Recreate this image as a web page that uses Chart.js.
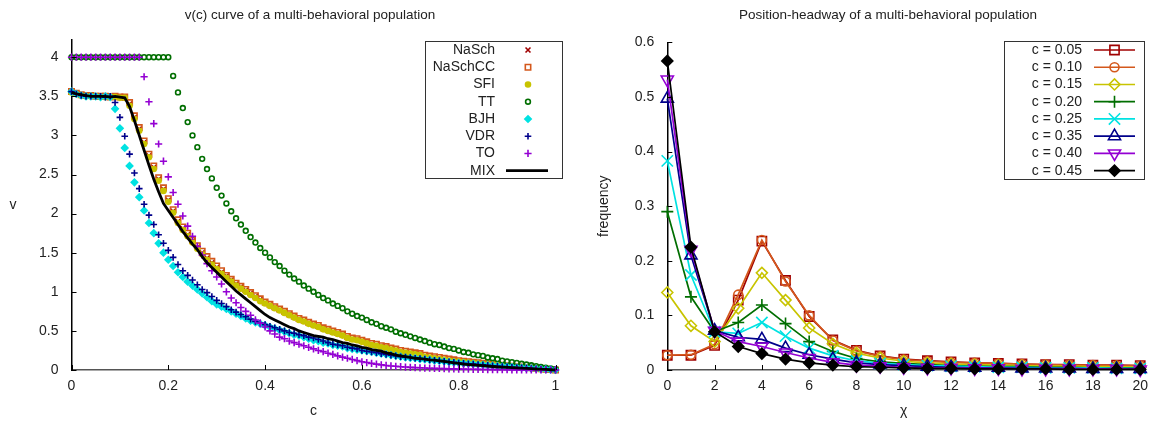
<!DOCTYPE html>
<html>
<head>
<meta charset="utf-8">
<script src="https://cdn.jsdelivr.net/npm/chart.js@4.4.1/dist/chart.umd.min.js"></script>
<style>
  html, body { margin: 0; padding: 0; background: #fff; }
  #wrap { position: relative; width: 1156px; height: 422px; }
  .panel { position: absolute; top: 0; }
</style>
</head>
<body>
<div id="wrap">
  <div class="panel" style="left:0"><canvas id="vc" width="580" height="422"></canvas></div>
  <div class="panel" style="left:580px"><canvas id="ph" width="576" height="422"></canvas></div>
</div>
<script>
/* v(c) curves + position-headway distributions */
const FONT = '"Liberation Sans", Arial, sans-serif';

// ---- left panel: density grid and speeds per model ----
const C_GRID = [0,0.01,0.02,0.03,0.04,0.05,0.06,0.07,0.08,0.09,0.1,0.11,0.12,0.13,0.14,0.15,0.16,0.17,0.18,0.19,0.2,
  0.21,0.22,0.23,0.24,0.25,0.26,0.27,0.28,0.29,0.3,0.31,0.32,0.33,0.34,0.35,0.36,0.37,0.38,0.39,0.4,
  0.41,0.42,0.43,0.44,0.45,0.46,0.47,0.48,0.49,0.5,0.51,0.52,0.53,0.54,0.55,0.56,0.57,0.58,0.59,0.6,
  0.61,0.62,0.63,0.64,0.65,0.66,0.67,0.68,0.69,0.7,0.71,0.72,0.73,0.74,0.75,0.76,0.77,0.78,0.79,0.8,
  0.81,0.82,0.83,0.84,0.85,0.86,0.87,0.88,0.89,0.9,0.91,0.92,0.93,0.94,0.95,0.96,0.97,0.98,0.99,1];

const V_NASCH = [3.56,3.53,3.52,3.51,3.50,3.50,3.50,3.49,3.50,3.49,3.49,3.48,3.40,3.23,3.08,2.91,2.74,2.59,2.44,2.31,2.17,
  2.03,1.90,1.81,1.73,1.65,1.57,1.50,1.43,1.37,1.31,1.25,1.20,1.15,1.10,1.06,1.02,0.98,0.94,0.90,0.86,
  0.83,0.80,0.77,0.74,0.71,0.68,0.65,0.63,0.60,0.58,0.56,0.53,0.51,0.49,0.47,0.45,0.42,0.40,0.39,0.37,
  0.35,0.33,0.32,0.30,0.29,0.27,0.26,0.24,0.23,0.22,0.21,0.20,0.18,0.17,0.16,0.15,0.14,0.13,0.12,0.115,
  0.108,0.101,0.094,0.087,0.081,0.075,0.069,0.062,0.056,0.05,0.045,0.04,0.035,0.03,0.025,0.02,0.015,0.01,0.005,0];
const V_NASCHCC = [3.56,3.54,3.52,3.51,3.51,3.50,3.50,3.50,3.49,3.50,3.49,3.49,3.42,3.25,3.10,2.93,2.76,2.61,2.46,2.33,2.19,
  2.05,1.92,1.83,1.75,1.66,1.59,1.52,1.45,1.39,1.33,1.27,1.21,1.16,1.11,1.07,1.03,0.99,0.95,0.91,0.87,
  0.84,0.81,0.78,0.75,0.72,0.69,0.66,0.64,0.61,0.59,0.57,0.54,0.52,0.50,0.48,0.46,0.43,0.41,0.40,0.38,
  0.36,0.34,0.33,0.31,0.30,0.28,0.27,0.25,0.24,0.23,0.22,0.21,0.19,0.18,0.17,0.16,0.15,0.14,0.13,0.12,
  0.113,0.106,0.099,0.092,0.085,0.079,0.072,0.066,0.06,0.054,0.048,0.043,0.038,0.033,0.028,0.022,0.017,0.011,0.006,0];
const V_SFI = [3.55,3.53,3.51,3.50,3.50,3.50,3.49,3.49,3.49,3.49,3.48,3.48,3.38,3.21,3.06,2.89,2.72,2.57,2.42,2.29,2.15,
  2.01,1.88,1.79,1.71,1.63,1.55,1.48,1.41,1.35,1.29,1.23,1.18,1.13,1.08,1.04,1.00,0.96,0.92,0.88,0.85,
  0.82,0.79,0.76,0.73,0.70,0.67,0.64,0.62,0.59,0.57,0.55,0.52,0.50,0.48,0.46,0.44,0.41,0.39,0.38,0.36,
  0.34,0.32,0.31,0.29,0.28,0.26,0.25,0.23,0.22,0.21,0.20,0.19,0.17,0.16,0.15,0.14,0.13,0.12,0.11,0.108,
  0.102,0.095,0.089,0.082,0.076,0.071,0.065,0.059,0.053,0.047,0.042,0.037,0.033,0.028,0.023,0.019,0.014,0.009,0.004,0];
const V_TT = [4,4,4,4,4,4,4,4,4,4,4,4,4,4,4,4,4,4,4,4,4,
  3.76,3.55,3.35,3.17,3.00,2.85,2.70,2.57,2.45,2.33,2.23,2.13,2.03,1.94,1.86,1.78,1.70,1.63,1.56,1.50,
  1.44,1.38,1.33,1.27,1.22,1.17,1.13,1.08,1.04,1.00,0.96,0.92,0.89,0.85,0.82,0.79,0.75,0.72,0.69,0.67,
  0.64,0.61,0.59,0.56,0.54,0.52,0.49,0.47,0.45,0.43,0.41,0.39,0.37,0.35,0.33,0.32,0.30,0.28,0.27,0.25,
  0.23,0.22,0.20,0.19,0.18,0.16,0.15,0.14,0.12,0.11,0.10,0.09,0.08,0.07,0.06,0.05,0.04,0.03,0.02,0.01];
const V_BJH = [3.56,3.53,3.51,3.50,3.50,3.50,3.49,3.50,3.49,3.34,3.09,2.84,2.61,2.40,2.21,2.04,1.88,1.75,1.62,1.50,1.41,
  1.33,1.25,1.19,1.13,1.08,1.03,0.98,0.93,0.88,0.84,0.81,0.78,0.75,0.72,0.69,0.66,0.63,0.61,0.59,0.57,
  0.55,0.53,0.51,0.49,0.47,0.45,0.44,0.42,0.40,0.38,0.37,0.35,0.34,0.32,0.31,0.30,0.28,0.27,0.26,0.25,
  0.24,0.23,0.22,0.21,0.20,0.19,0.18,0.17,0.16,0.155,0.15,0.14,0.135,0.13,0.12,0.115,0.11,0.10,0.095,0.09,
  0.085,0.08,0.075,0.07,0.065,0.06,0.055,0.05,0.045,0.04,0.036,0.032,0.028,0.024,0.02,0.016,0.012,0.008,0.004,0];
const V_VDR = [3.56,3.53,3.51,3.50,3.50,3.50,3.50,3.49,3.50,3.42,3.23,2.99,2.76,2.52,2.32,2.12,1.98,1.86,1.73,1.62,1.53,
  1.44,1.35,1.27,1.21,1.15,1.09,1.03,0.99,0.94,0.89,0.85,0.81,0.77,0.74,0.71,0.68,0.65,0.62,0.60,0.58,
  0.56,0.54,0.52,0.50,0.48,0.47,0.45,0.44,0.42,0.41,0.39,0.37,0.35,0.33,0.32,0.31,0.29,0.28,0.27,0.25,
  0.24,0.23,0.22,0.21,0.20,0.19,0.18,0.17,0.165,0.16,0.15,0.145,0.14,0.13,0.125,0.12,0.11,0.105,0.10,0.09,
  0.085,0.08,0.075,0.07,0.065,0.06,0.055,0.05,0.045,0.04,0.036,0.032,0.028,0.024,0.02,0.016,0.012,0.008,0.004,0];
const V_TO = [4,4,4,4,4,4,4,4,4,4,4,4,4,4,4,3.75,3.43,3.15,2.89,2.67,2.47,
  2.27,2.12,1.97,1.84,1.71,1.58,1.47,1.36,1.27,1.19,1.10,1.00,0.92,0.86,0.80,0.75,0.70,0.64,0.60,0.55,
  0.50,0.46,0.42,0.40,0.37,0.35,0.33,0.31,0.29,0.27,0.25,0.235,0.215,0.20,0.18,0.165,0.15,0.135,0.12,0.105,
  0.095,0.085,0.075,0.065,0.058,0.052,0.047,0.042,0.038,0.034,0.031,0.028,0.025,0.023,0.021,0.019,0.017,0.015,0.014,0.012,
  0.011,0.01,0.009,0.008,0.007,0.006,0.005,0.004,0.003,0.003,0.002,0.002,0.002,0.002,0.002,0.002,0.002,0.002,0.002,0.002];
const V_MIX = [3.55,3.53,3.52,3.51,3.50,3.50,3.50,3.50,3.49,3.50,3.49,3.48,3.37,3.19,3.00,2.81,2.62,2.44,2.28,2.13,2.04,
  1.95,1.86,1.77,1.69,1.61,1.54,1.45,1.37,1.31,1.25,1.19,1.13,1.07,1.01,0.96,0.91,0.86,0.81,0.76,0.71,
  0.67,0.64,0.61,0.58,0.55,0.53,0.50,0.48,0.46,0.44,0.43,0.42,0.40,0.39,0.37,0.35,0.34,0.32,0.31,0.29,
  0.28,0.26,0.25,0.24,0.22,0.21,0.19,0.18,0.17,0.16,0.15,0.145,0.14,0.13,0.125,0.117,0.11,0.10,0.09,0.085,
  0.076,0.07,0.065,0.06,0.055,0.05,0.045,0.04,0.037,0.034,0.03,0.027,0.024,0.02,0.017,0.013,0.01,0.007,0.003,0];

const V_TICKS = [0,0.5,1,1.5,2,2.5,3,3.5,4];
const C_TICKS = [0,0.2,0.4,0.6,0.8,1];

// ---- right panel: headway distribution per density ----
const CHI = [0,1,2,3,4,5,6,7,8,9,10,11,12,13,14,15,16,17,18,19,20];
const F_005 = [0.027,0.027,0.045,0.128,0.236,0.164,0.098,0.055,0.036,0.026,0.020,0.017,0.015,0.013,0.012,0.011,0.010,0.010,0.009,0.009,0.008];
const F_010 = [0.027,0.028,0.047,0.138,0.238,0.162,0.100,0.054,0.035,0.025,0.019,0.016,0.014,0.013,0.012,0.011,0.010,0.009,0.009,0.008,0.008];
const F_015 = [0.142,0.081,0.052,0.113,0.178,0.128,0.077,0.048,0.031,0.022,0.016,0.013,0.011,0.010,0.009,0.008,0.007,0.007,0.006,0.006,0.005];
const F_020 = [0.290,0.134,0.070,0.087,0.119,0.085,0.052,0.034,0.021,0.015,0.012,0.010,0.008,0.007,0.006,0.006,0.005,0.005,0.004,0.004,0.004];
const F_025 = [0.383,0.174,0.070,0.067,0.087,0.062,0.040,0.026,0.017,0.012,0.010,0.008,0.007,0.006,0.005,0.005,0.004,0.004,0.004,0.003,0.003];
const F_035 = [0.497,0.210,0.072,0.060,0.056,0.040,0.028,0.020,0.013,0.010,0.008,0.006,0.005,0.004,0.004,0.003,0.003,0.003,0.002,0.002,0.002];
const F_040 = [0.532,0.220,0.072,0.052,0.043,0.032,0.022,0.014,0.009,0.007,0.005,0.004,0.004,0.003,0.003,0.002,0.002,0.002,0.002,0.002,0.001];
const F_045 = [0.566,0.225,0.070,0.043,0.030,0.020,0.013,0.009,0.006,0.005,0.004,0.003,0.003,0.002,0.002,0.002,0.002,0.001,0.001,0.001,0.001];

const F_TICKS = [0,0.1,0.2,0.3,0.4,0.5,0.6];
const CHI_TICKS = [0,2,4,6,8,10,12,14,16,18,20];

const pts = (xs, ys) => xs.map((x, i) => ({ x, y: ys[i] }));
const NONE = 'rgba(0,0,0,0)';

Chart.defaults.font.family = FONT;
Chart.defaults.font.size = 14;
Chart.defaults.color = '#222';

// gnuplot-ish frame: inward ticks, titles, boxed key (text right, sample left)
function framePlugin(spec) {
  return {
    id: 'frame',
    afterDraw(chart) {
      const ctx = chart.ctx, xs = chart.scales.x, ys = chart.scales.y, a = chart.chartArea;
      ctx.save();
      ctx.strokeStyle = '#000'; ctx.lineWidth = 1;
      ctx.beginPath();
      ys.ticks.forEach(t => { const y = Math.round(ys.getPixelForValue(t.value)) + 0.5; ctx.moveTo(a.left, y); ctx.lineTo(a.left + 5, y); });
      xs.ticks.forEach(t => { const x = Math.round(xs.getPixelForValue(t.value)) + 0.5; ctx.moveTo(x, a.bottom); ctx.lineTo(x, a.bottom - 5); });
      ctx.stroke();

      ctx.fillStyle = '#222'; ctx.textAlign = 'center'; ctx.textBaseline = 'middle';
      ctx.font = '13.5px ' + FONT;
      ctx.fillText(spec.title, spec.titleX, 15);
      ctx.font = '14px ' + FONT;
      ctx.fillText(spec.xTitle, (a.left + a.right) / 2, 411);
      ctx.save();
      ctx.translate(spec.yTitleX, (a.top + a.bottom) / 2);
      if (spec.rotateY) ctx.rotate(-Math.PI / 2);
      ctx.fillText(spec.yTitle, 0, 0);
      ctx.restore();

      const L = spec.key;
      ctx.fillStyle = '#fff'; ctx.fillRect(L.x, L.y, L.w, L.h);
      ctx.strokeStyle = '#333'; ctx.lineWidth = 1; ctx.strokeRect(L.x + 0.5, L.y + 0.5, L.w, L.h);
      ctx.textAlign = 'right';
      chart.data.datasets.forEach((ds, i) => {
        const y = L.y + L.first + i * L.step;
        ctx.fillStyle = '#222';
        ctx.fillText(ds.label, L.textRight, y);
        if (ds.showLine) {
          ctx.strokeStyle = ds.borderColor; ctx.lineWidth = ds.borderWidth;
          ctx.beginPath(); ctx.moveTo(L.line0, y); ctx.lineTo(L.line1, y); ctx.stroke();
        }
        if (ds.pointRadius > 0) {
          ctx.strokeStyle = ds.pointBorderColor; ctx.fillStyle = ds.pointBackgroundColor; ctx.lineWidth = ds.pointBorderWidth;
          Chart.helpers.drawPoint(ctx, { pointStyle: ds.pointStyle, rotation: ds.pointRotation || 0, radius: ds.pointRadius, borderWidth: ds.pointBorderWidth }, L.mark, y);
        }
      });
      ctx.restore();
    }
  };
}

function axis(min, max, tickVals, fmt, size, pad, borderColor, isY) {
  return {
    type: 'linear', min, max,
    afterBuildTicks(s) { s.ticks = tickVals.map(v => ({ value: v })); },
    afterFit(s) { if (isY) s.width = size; else s.height = size; },
    ticks: { padding: pad, callback: fmt, autoSkip: false, maxRotation: 0, color: '#222', font: { size: 14 } },
    grid: { display: false, drawTicks: false },
    border: { display: true, color: borderColor, width: 1.5 }
  };
}

// ---- left chart ----
const leftSpec = [
  { label: 'NaSch',   v: V_NASCH,   color: '#a00000', style: 'crossRot', r: 3.5, fill: false },
  { label: 'NaSchCC', v: V_NASCHCC, color: '#d4581c', style: 'rect',     r: 3.8, fill: false },
  { label: 'SFI',     v: V_SFI,     color: '#c8c400', style: 'circle',   r: 2.5, fill: true },
  { label: 'TT',      v: V_TT,      color: '#006e00', style: 'circle',   r: 2.4, fill: false },
  { label: 'BJH',     v: V_BJH,     color: '#00e2e2', style: 'rectRot',  r: 3.2, fill: true },
  { label: 'VDR',     v: V_VDR,     color: '#00008b', style: 'cross',    r: 3.3, fill: false },
  { label: 'TO',      v: V_TO,      color: '#9400d3', style: 'cross',    r: 3.6, fill: false }
];
const leftSets = leftSpec.map((s, i) => ({
  label: s.label, data: pts(C_GRID, s.v), showLine: false, order: 10 - i, clip: false,
  pointStyle: s.style, pointRadius: s.r, pointBorderWidth: 1.6,
  pointBorderColor: s.color, pointBackgroundColor: s.fill ? s.color : NONE
}));
leftSets.push({
  label: 'MIX', data: pts(C_GRID, V_MIX), showLine: true, order: 0, clip: false,
  borderColor: '#000', borderWidth: 2.8, pointRadius: 0, tension: 0
});

new Chart(document.getElementById('vc'), {
  type: 'scatter',
  data: { datasets: leftSets },
  options: {
    responsive: false, animation: false, events: [],
    layout: { padding: { left: 0, right: 24.5, top: 40, bottom: 0 } },
    plugins: { legend: { display: false }, tooltip: { enabled: false } },
    scales: {
      x: axis(0, 1, C_TICKS, v => String(Math.round(v * 10) / 10), 52, 8, '#555', false),
      y: axis(0, 4.22, V_TICKS, v => String(v), 71.5, 13, '#000', true)
    }
  },
  plugins: [framePlugin({
    title: 'v(c) curve of a multi-behavioral population', titleX: 310,
    xTitle: 'c', yTitle: 'v', yTitleX: 13, rotateY: false,
    key: { x: 425, y: 41, w: 137, h: 137, first: 9, step: 17.24, textRight: 495, mark: 528, line0: 506, line1: 548 }
  })]
});

// ---- right chart ----
const rightSpec = [
  { label: 'c = 0.05', f: F_005, color: '#a00000', style: 'rect',     r: 6.5, rot: 0,   fill: false },
  { label: 'c = 0.10', f: F_010, color: '#d4581c', style: 'circle',   r: 4.5, rot: 0,   fill: false },
  { label: 'c = 0.15', f: F_015, color: '#c8c400', style: 'rectRot',  r: 5.5, rot: 0,   fill: false },
  { label: 'c = 0.20', f: F_020, color: '#006e00', style: 'cross',    r: 6,   rot: 0,   fill: false },
  { label: 'c = 0.25', f: F_025, color: '#00e2e2', style: 'crossRot', r: 8,   rot: 0,   fill: false },
  { label: 'c = 0.35', f: F_035, color: '#00008b', style: 'triangle', r: 7,   rot: 0,   fill: false },
  { label: 'c = 0.40', f: F_040, color: '#9400d3', style: 'triangle', r: 7,   rot: 180, fill: false },
  { label: 'c = 0.45', f: F_045, color: '#000000', style: 'rectRot',  r: 5.5, rot: 0,   fill: true }
];
const rightSets = rightSpec.map((s, i) => ({
  label: s.label, data: pts(CHI, s.f), showLine: true, order: 10 - i, clip: false, tension: 0,
  borderColor: s.color, borderWidth: 1.7,
  pointStyle: s.style, pointRotation: s.rot, pointRadius: s.r, pointBorderWidth: 1.6,
  pointBorderColor: s.color, pointBackgroundColor: s.fill ? s.color : NONE
}));

new Chart(document.getElementById('ph'), {
  type: 'scatter',
  data: { datasets: rightSets },
  options: {
    responsive: false, animation: false, events: [],
    layout: { padding: { left: 0, right: 12.7, top: 42.4, bottom: 0 } },
    plugins: { legend: { display: false }, tooltip: { enabled: false } },
    scales: {
      x: axis(0, 20, CHI_TICKS, v => String(v), 52, 8, '#555', false),
      y: axis(0, 0.6, F_TICKS, v => (v === 0 ? '0' : v.toFixed(1)), 87.3, 13, '#000', true)
    }
  },
  plugins: [framePlugin({
    title: 'Position-headway of a multi-behavioral population', titleX: 308,
    xTitle: 'χ', yTitle: 'frequency', yTitleX: 24, rotateY: true,
    key: { x: 424, y: 41, w: 140, h: 138, first: 9, step: 17.24, textRight: 502, mark: 534.5, line0: 514, line1: 555 }
  })]
});
</script>
</body>
</html>
